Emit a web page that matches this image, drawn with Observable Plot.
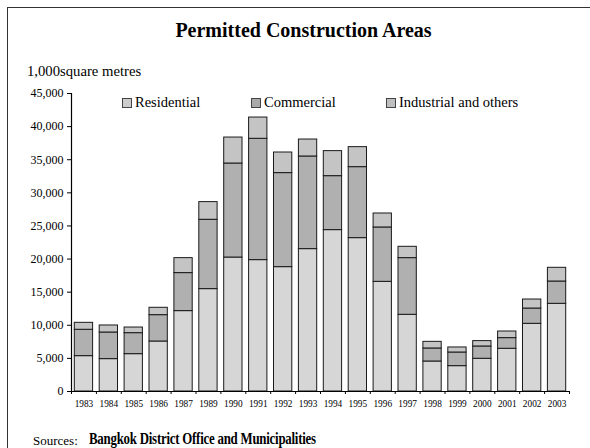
<!DOCTYPE html>
<html>
<head>
<meta charset="utf-8">
<script src="https://cdn.jsdelivr.net/npm/d3@7"></script>
<script src="https://cdn.jsdelivr.net/npm/@observablehq/plot@0.6"></script>
<style>
  body { margin: 0; background: #fff; }
  #wrap { position: relative; width: 590px; height: 448px; overflow: hidden; font-family: "Liberation Serif", "Times New Roman", serif; color: #000; }
  #frame { position: absolute; left: 7px; top: 7px; width: 600px; height: 460px; border: 1.3px solid #333; box-sizing: border-box; }
  #title { position: absolute; left: 0; width: 607px; top: 19px; text-align: center; font-weight: bold; font-size: 20px; }
  #unit { position: absolute; left: 27px; top: 63px; font-size: 14.7px; }
  #legend { position: absolute; top: 94px; left: 0; font-size: 14.5px; }
  .li { position: absolute; white-space: nowrap; }
  .sw { position: absolute; top: 4px; width: 8px; height: 8px; border: 1px solid #444; }
  .lt { position: absolute; left: 13px; top: 0; }
  #plot { position: absolute; left: 0; top: 0; }
  #src { position: absolute; left: 33px; top: 431px; white-space: nowrap; }
  #src .a { font-size: 13px; position: absolute; left: 0; top: 2px; }
  #src .b { font-size: 16.5px; font-weight: bold; position: absolute; left: 56px; top: -2px; display: inline-block; transform: scaleX(0.78); transform-origin: left center; letter-spacing: -0.3px; }
</style>
</head>
<body>
<div id="wrap">
  <div id="frame"></div>
  <div id="title">Permitted Construction Areas</div>
  <div id="unit">1,000square metres</div>
  <div id="legend"></div>
  <div id="plot"></div>
  <div id="src"><span class="a">Sources:</span><span class="b">Bangkok District Office and Municipalities</span></div>
</div>
<script>
const years = ["1983","1984","1985","1986","1987","1989","1990","1991","1992","1993","1994","1995","1996","1997","1998","1999","2000","2001","2002","2003"];
const residential = [5340,4890,5640,7550,12140,15460,20230,19840,18780,21500,24370,23160,16560,11580,4530,3830,4940,6450,10220,13240];
const commercial  = [3980,4020,3170,3980,5740,10470,14200,18320,14200,13990,8150,10720,8210,8560,1970,2060,1860,1610,2310,3370];
const industrial  = [1050,1060,850,1110,2260,2670,3920,3210,3110,2560,3780,3020,2110,1710,1000,760,810,1000,1360,2070];
const seriesNames = ["Residential","Commercial","Industrial and others"];
const seriesColors = ["#d6d6d6","#b0b0b0","#c4c4c4"];
const legendSwatch = ["#cdcdcd","#a9a9a9","#bfbfbf"];
const legendX = [122, 251, 386];
const yTicks = d3.range(0, 45001, 5000);

const data = [];
years.forEach((y, i) => {
  data.push({year: y, series: seriesNames[0], value: residential[i]});
  data.push({year: y, series: seriesNames[1], value: commercial[i]});
  data.push({year: y, series: seriesNames[2], value: industrial[i]});
});

// legend
const leg = document.getElementById("legend");
seriesNames.forEach((s, i) => {
  const d = document.createElement("div");
  d.className = "li";
  d.style.left = legendX[i] + "px";
  d.innerHTML = `<span class="sw" style="background:${legendSwatch[i]}"></span><span class="lt">${s}</span>`;
  leg.appendChild(d);
});

const W = 590, H = 420, ml = 71, mr = 21, mt = 93, mb = 29;
const pIn = 0.265, pOut = 0.1325;
const step = (W - ml - mr) / (years.length - pIn + 2 * pOut);

const chart = Plot.plot({
  width: W, height: H,
  marginLeft: ml, marginRight: mr, marginTop: mt, marginBottom: mb,
  style: {fontFamily: "'Liberation Serif', 'Times New Roman', serif", background: "transparent", color: "#000"},
  x: {domain: years, paddingInner: pIn, paddingOuter: pOut, round: false, label: null},
  y: {domain: [0, 45000], label: null},
  color: {domain: seriesNames, range: seriesColors},
  marks: [
    Plot.barY(data, {x: "year", y: "value", fill: "series", order: seriesNames, stroke: "#1a1a1a", strokeWidth: 1}),
    Plot.axisY({ticks: yTicks, tickFormat: d3.format(","), tickSize: 4, tickPadding: 4, fontSize: 12, stroke: "#000", label: null}),
    Plot.axisX({tickSize: 0, tickPadding: 9, fontSize: 9.3, label: null}),
    Plot.axisX({tickSize: 3, tickFormat: null, dx: -step / 2, label: null, stroke: "#000"}),
    Plot.axisX({ticks: [years[years.length - 1]], tickSize: 3, tickFormat: null, dx: step / 2, label: null, stroke: "#000"}),
    Plot.ruleY([0], {stroke: "#000", strokeWidth: 1.2}),
    Plot.ruleX([years[0]], {x: () => years[0], dx: -step / 2, stroke: "#000", strokeWidth: 1.2})
  ]
});
document.getElementById("plot").appendChild(chart);
</script>
</body>
</html>
